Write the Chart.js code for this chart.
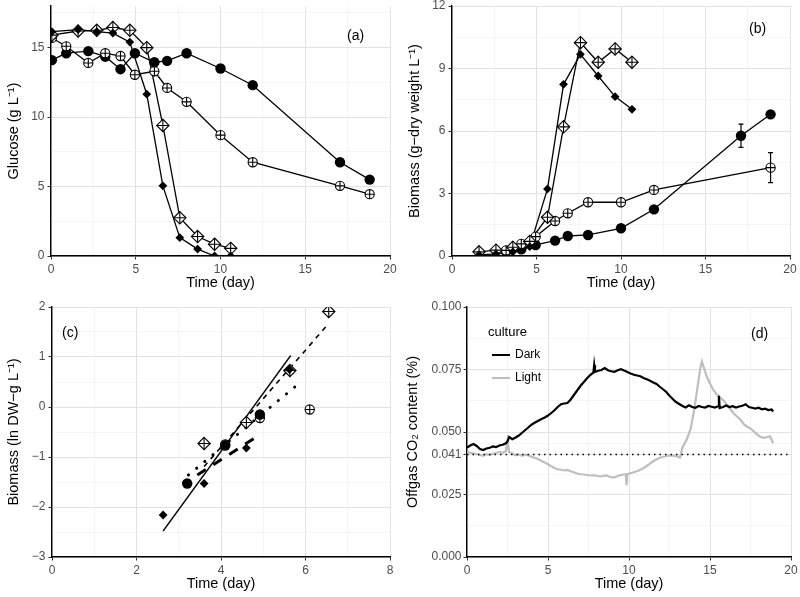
<!DOCTYPE html>
<html>
<head>
<meta charset="utf-8">
<script src="https://cdn.jsdelivr.net/npm/chart.js@4.4.1/dist/chart.umd.min.js"></script>
<style>
  html, body { margin: 0; padding: 0; background: #fff; }
  #wrap { position: relative; width: 800px; height: 597px; overflow: hidden; }
  #wrap canvas { position: absolute; }
</style>
</head>
<body>
<div id="wrap">
  <canvas id="panelA" width="400" height="298" style="left:0;top:0"></canvas>
  <canvas id="panelB" width="400" height="298" style="left:400px;top:0"></canvas>
  <canvas id="panelC" width="400" height="299" style="left:0;top:298px"></canvas>
  <canvas id="panelD" width="400" height="299" style="left:400px;top:298px"></canvas>
</div>
<script>
// (a) glucose
const circleTimesA = [0.05, 0.9, 2.2, 3.2, 4.1, 4.95, 6.1, 6.85, 8.0, 10.0, 11.9, 17.05, 18.8];
const glucoseDark = [14.1, 14.6, 14.75, 14.35, 13.45, 14.6, 13.95, 14.05, 14.6, 13.5, 12.3, 6.75, 5.5];
const glucoseDarkPlus = [15.7, 15.1, 13.9, 14.6, 14.4, 13.05, 13.3, 12.1, 11.1, 8.7, 6.75, 5.05, 4.45];
const diamondTimesA = [0.05, 1.6, 2.7, 3.65, 4.65, 5.65, 6.6, 7.6, 8.65, 9.65, 10.6];
const glucoseLight = [16.15, 16.3, 16.15, 16.05, 15.4, 11.65, 5.05, 1.32, 0.5, 0.0, 0.0];
const glucoseLightPlus = [15.9, 16.2, 16.25, 16.45, 16.25, 15.0, 9.4, 2.75, 1.4, 0.85, 0.55];

// (b) biomass
const circleTimesB = [3.2, 4.1, 4.95, 6.1, 6.85, 8.05, 10.0, 11.95, 17.1, 18.85];
const biomassDark = [0.2, 0.32, 0.53, 0.74, 0.96, 1.01, 1.33, 2.24, 5.77, 6.8];
const biomassDarkErr = [0, 0, 0, 0, 0, 0, 0, 0, 0.56, 0];
const plusTimesB = [3.2, 4.1, 4.95, 6.1, 6.85, 8.05, 10.0, 11.95, 18.85];
const biomassDarkPlus = [0.27, 0.58, 0.93, 1.68, 2.05, 2.58, 2.58, 3.17, 4.24];
const biomassDarkPlusErr = [0, 0, 0, 0, 0, 0, 0, 0, 0.72];
const diamondTimesB = [1.6, 2.6, 3.6, 4.6, 5.65, 6.6, 7.6, 8.65, 9.65, 10.65];
const biomassLight = [0.05, 0.1, 0.2, 0.45, 3.22, 8.24, 9.68, 8.64, 7.65, 7.04];
const biomassLightPlus = [0.2, 0.28, 0.42, 0.7, 1.86, 6.2, 10.24, 9.3, 9.94, 9.3];

// (c) ln biomass, points and fitted lines (end points)
const lnLightT = [2.63, 3.6, 4.6, 5.62];
const lnLight = [-2.16, -1.53, -0.82, 0.75];
const lnLightPlusT = [3.6, 4.6, 5.63, 6.55];
const lnLightPlus = [-0.73, -0.31, 0.73, 1.91];
const lnDarkT = [3.2, 4.1, 4.92];
const lnDark = [-1.53, -0.77, -0.15];
const lnDarkPlusT = [4.1, 4.92, 6.1];
const lnDarkPlus = [-0.75, -0.22, -0.05];
const fitLightT = [2.63, 5.65];
const fitLight = [-2.48, 1.03];
const fitLightPlusT = [3.6, 6.55];
const fitLightPlus = [-1.19, 1.67];
const fitDarkT = [3.23, 5.93];
const fitDark = [-1.36, 0.53];
const fitDarkPlusT = [3.44, 4.89];
const fitDarkPlus = [-1.36, -0.57];

// (d) offgas CO2
const co2DarkT = [0, 0.2, 0.4, 0.6, 0.8, 1.0, 1.2, 1.4, 1.6, 1.8, 2.0, 2.2, 2.4, 2.5, 2.6, 2.8, 3.0, 3.2, 3.4, 3.6, 3.8, 4.0, 4.2, 4.4, 4.6, 4.8, 5.0, 5.2, 5.4, 5.6, 5.8, 6.0, 6.2, 6.4, 6.6, 6.8, 7.0, 7.2, 7.4, 7.6, 7.8, 7.85, 7.9, 8.1, 8.3, 8.5, 8.7, 8.9, 9.1, 9.3, 9.5, 9.7, 9.9, 10.1, 10.3, 10.5, 10.7, 10.9, 11.1, 11.3, 11.5, 11.7, 11.9, 12.1, 12.3, 12.5, 12.7, 12.9, 13.1, 13.3, 13.5, 13.7, 13.9, 14.1, 14.3, 14.5, 14.7, 14.9, 15.1, 15.3, 15.5, 15.55, 15.6, 15.8, 16.0, 16.2, 16.4, 16.6, 16.8, 17.0, 17.2, 17.4, 17.6, 17.8, 18.0, 18.2, 18.4, 18.6, 18.8, 18.9];
const co2Dark = [0.0438, 0.0446, 0.0452, 0.0444, 0.0432, 0.0428, 0.0434, 0.0437, 0.0442, 0.0440, 0.0446, 0.0449, 0.0455, 0.0462, 0.0480, 0.0471, 0.0478, 0.0486, 0.0497, 0.0508, 0.0519, 0.0530, 0.0538, 0.0545, 0.0552, 0.0558, 0.0566, 0.0576, 0.0587, 0.0600, 0.0611, 0.0614, 0.0616, 0.0630, 0.0648, 0.0666, 0.0684, 0.0699, 0.0714, 0.0728, 0.0737, 0.0768, 0.0740, 0.0745, 0.0748, 0.0756, 0.0747, 0.0743, 0.0741, 0.0747, 0.0751, 0.0746, 0.0740, 0.0734, 0.0729, 0.0726, 0.0723, 0.0716, 0.0711, 0.0705, 0.0698, 0.0692, 0.0681, 0.0671, 0.0660, 0.0645, 0.0632, 0.0620, 0.0612, 0.0604, 0.0598, 0.0607, 0.0600, 0.0597, 0.0604, 0.0600, 0.0598, 0.0604, 0.0601, 0.0598, 0.0603, 0.0645, 0.0596, 0.0600, 0.0606, 0.0600, 0.0603, 0.0598, 0.0602, 0.0605, 0.0611, 0.0600, 0.0597, 0.0594, 0.0597, 0.0591, 0.0593, 0.0588, 0.0590, 0.0582];
const co2LightT = [0, 0.2, 0.4, 0.6, 0.8, 1.0, 1.2, 1.4, 1.6, 1.8, 2.0, 2.2, 2.4, 2.5, 2.6, 2.8, 3.0, 3.2, 3.4, 3.6, 3.8, 4.0, 4.2, 4.4, 4.6, 4.8, 5.0, 5.2, 5.4, 5.6, 5.8, 6.0, 6.2, 6.4, 6.6, 6.8, 7.0, 7.2, 7.4, 7.6, 7.8, 8.0, 8.2, 8.4, 8.6, 8.8, 9.0, 9.2, 9.4, 9.6, 9.8, 9.85, 9.9, 10.0, 10.2, 10.4, 10.6, 10.8, 11.0, 11.2, 11.4, 11.6, 11.8, 12.0, 12.2, 12.4, 12.6, 12.8, 13.0, 13.15, 13.3, 13.55, 13.8, 14.0, 14.2, 14.4, 14.5, 14.65, 14.8, 15.0, 15.2, 15.4, 15.6, 15.8, 16.0, 16.2, 16.45, 16.7, 16.9, 17.1, 17.3, 17.5, 17.7, 17.9, 18.1, 18.3, 18.5, 18.7, 18.8, 18.9];
const co2Light = [0.0421, 0.0417, 0.0414, 0.0411, 0.0408, 0.0405, 0.0411, 0.0408, 0.0413, 0.0416, 0.0420, 0.0417, 0.0424, 0.0466, 0.0420, 0.0414, 0.0407, 0.0410, 0.0405, 0.0409, 0.0406, 0.0400, 0.0397, 0.0391, 0.0384, 0.0378, 0.0371, 0.0363, 0.0356, 0.0351, 0.0349, 0.0346, 0.0348, 0.0343, 0.0339, 0.0334, 0.0331, 0.0330, 0.0328, 0.0326, 0.0327, 0.0325, 0.0322, 0.0324, 0.0326, 0.0321, 0.0318, 0.0321, 0.0326, 0.0329, 0.0331, 0.0287, 0.0331, 0.0334, 0.0337, 0.0341, 0.0346, 0.0352, 0.0360, 0.0369, 0.0379, 0.0387, 0.0394, 0.0399, 0.0402, 0.0405, 0.0406, 0.0404, 0.0402, 0.0398, 0.0438, 0.0468, 0.0510, 0.0580, 0.0665, 0.0755, 0.0782, 0.0752, 0.0722, 0.0694, 0.0668, 0.0652, 0.0640, 0.0628, 0.0612, 0.0596, 0.0575, 0.0560, 0.0548, 0.0530, 0.0521, 0.0514, 0.0503, 0.0490, 0.0481, 0.0477, 0.0479, 0.0483, 0.0470, 0.0455];
const ambientCO2 = 0.041;

// tick lists
const ticks20 = [0, 5, 10, 15, 20], minor20 = [2.5, 7.5, 12.5, 17.5];
const ticksGlucose = [0, 5, 10, 15], minorGlucose = [2.5, 7.5, 12.5, 17.5];
const ticksBiomass = [0, 3, 6, 9, 12], minorBiomass = [1.5, 4.5, 7.5, 10.5];
const ticksC_x = [0, 2, 4, 6, 8], minorC_x = [1, 3, 5, 7];
const ticksC_y = [-3, -2, -1, 0, 1, 2], minorC_y = [-2.5, -1.5, -0.5, 0.5, 1.5];
const ticksCO2 = [0, 0.025, 0.041, 0.05, 0.075, 0.1], minorCO2 = [0.0125, 0.033, 0.0455, 0.0625, 0.0875];

const FONT = "'Liberation Sans', Arial, Helvetica, sans-serif";

function pts(xs, ys) { return xs.map((x, i) => ({x: x, y: ys[i]})); }

// vector markers drawn on top of the datasets at the library's point positions
function drawMarker(g, kind, x, y) {
  g.strokeStyle = '#000'; g.fillStyle = '#000'; g.lineWidth = 1.1;
  if (kind === 'dot') {
    g.beginPath(); g.arc(x, y, 5.2, 0, 2 * Math.PI); g.fill();
  } else if (kind === 'oplus') {
    const r = 4.6;
    g.fillStyle = '#fff';
    g.beginPath(); g.arc(x, y, r, 0, 2 * Math.PI); g.fill(); g.stroke();
    g.beginPath(); g.moveTo(x - r, y); g.lineTo(x + r, y); g.moveTo(x, y - r); g.lineTo(x, y + r); g.stroke();
  } else if (kind === 'diamond') {
    const r = 4.4;
    g.beginPath(); g.moveTo(x, y - r); g.lineTo(x + r, y); g.lineTo(x, y + r); g.lineTo(x - r, y); g.closePath(); g.fill();
  } else if (kind === 'dplus') {
    const r = 6.2;
    g.fillStyle = '#fff';
    g.beginPath(); g.moveTo(x, y - r); g.lineTo(x + r, y); g.lineTo(x, y + r); g.lineTo(x - r, y); g.closePath(); g.fill(); g.stroke();
    g.beginPath(); g.moveTo(x - r, y); g.lineTo(x + r, y); g.moveTo(x, y - r); g.lineTo(x, y + r); g.stroke();
  }
}

const markers = {
  id: 'markers',
  afterDatasetsDraw(chart) {
    const g = chart.ctx, a = chart.chartArea;
    g.save();
    g.beginPath(); g.rect(a.left, a.top, a.right - a.left, a.bottom - a.top); g.clip();
    chart.data.datasets.forEach((ds, i) => {
      if (!ds.mk) return;
      chart.getDatasetMeta(i).data.forEach(el => drawMarker(g, ds.mk, el.x, el.y));
    });
    g.restore();
  }
};

function axis(o) {
  const all = o.major.concat(o.minor).sort((a, b) => a - b);
  const isMajor = v => o.major.some(m => Math.abs(m - v) < 1e-9);
  return {
    type: 'linear',
    min: o.min, max: o.max,
    afterBuildTicks: s => { s.ticks = all.map(v => ({value: v})); },
    afterFit: s => {
      if (o.width) { s.width = o.width; s.paddingTop = 0; s.paddingBottom = 0; }
      if (o.height) { s.height = o.height; s.paddingLeft = 0; s.paddingRight = 0; }
    },
    border: {display: true, color: '#000', width: 1.4},
    grid: {
      color: c => isMajor(c.tick.value) ? '#e2e2e2' : '#f0f0f0',
      lineWidth: c => isMajor(c.tick.value) ? 1 : 0.7,
      drawTicks: true,
      tickLength: 3.5,
      tickWidth: 1,
      tickColor: c => isMajor(c.tick.value) ? '#333' : 'rgba(0,0,0,0)'
    },
    ticks: {
      autoSkip: false, maxRotation: 0, padding: o.pad == null ? 3 : o.pad,
      color: '#4d4d4d', font: {family: FONT, size: 12},
      callback: v => isMajor(v) ? o.fmt(v) : ''
    },
    title: {display: true, text: o.title, color: '#000', font: {family: FONT, size: 14.5},
            padding: o.titlePad || {top: 0, bottom: 0}}
  };
}

const fmtInt = v => String(v).replace('-', '\u2212');
const fmt3 = v => v.toFixed(3);

const panelText = {
  id: 'panelText',
  afterDraw(chart, args, opts) {
    const ctx = chart.ctx;
    ctx.save();
    ctx.textBaseline = 'middle';
    (opts.items || []).forEach(it => {
      ctx.font = (it.size || 14) + 'px ' + FONT;
      ctx.fillStyle = it.color || '#000';
      ctx.textAlign = it.align || 'left';
      ctx.fillText(it.text, it.x, it.y);
    });
    (opts.keys || []).forEach(k => {
      ctx.strokeStyle = k.color; ctx.lineWidth = 2;
      ctx.beginPath(); ctx.moveTo(k.x1, k.y); ctx.lineTo(k.x2, k.y); ctx.stroke();
    });
    ctx.restore();
  }
};

const errorBars = {
  id: 'errorBars',
  afterDatasetsDraw(chart, args, opts) {
    const ctx = chart.ctx, xs = chart.scales.x, ys = chart.scales.y;
    ctx.save();
    ctx.strokeStyle = '#000'; ctx.lineWidth = 1.2;
    (opts.sets || []).forEach(s => {
      s.t.forEach((t, i) => {
        const e = s.err[i];
        if (!e) return;
        const x = xs.getPixelForValue(t);
        const y1 = ys.getPixelForValue(s.v[i] - e), y2 = ys.getPixelForValue(s.v[i] + e);
        ctx.beginPath();
        ctx.moveTo(x, y1); ctx.lineTo(x, y2);
        ctx.moveTo(x - 2.5, y1); ctx.lineTo(x + 2.5, y1);
        ctx.moveTo(x - 2.5, y2); ctx.lineTo(x + 2.5, y2);
        ctx.stroke();
      });
    });
    ctx.restore();
  }
};

function series(data, mk, extra) {
  return Object.assign({
    data: data, showLine: true, borderColor: '#000', borderWidth: 1.3,
    pointRadius: 0, mk: mk
  }, extra || {});
}

function baseOptions(pad, xAxis, yAxis, plugins) {
  return {
    responsive: false, animation: false, events: [],
    layout: {padding: pad},
    scales: {x: xAxis, y: yAxis},
    plugins: Object.assign({legend: {display: false}, tooltip: {enabled: false}}, plugins)
  };
}

// panel (a)
new Chart(document.getElementById('panelA'), {
  type: 'scatter',
  data: {datasets: [
    series(pts(circleTimesA, glucoseDark), 'dot'),
    series(pts(circleTimesA, glucoseDarkPlus), 'oplus'),
    series(pts(diamondTimesA, glucoseLightPlus), 'dplus'),
    series(pts(diamondTimesA, glucoseLight), 'diamond')
  ]},
  options: baseOptions({left: 0, top: 6, right: 10, bottom: 6},
    axis({min: 0, max: 20, major: ticks20, minor: minor20, fmt: fmtInt, title: 'Time (day)', height: 36}),
    axis({min: 0, max: 18, major: ticksGlucose, minor: minorGlucose, fmt: fmtInt, title: 'Glucose (g L\u207B\u00B9)', width: 51, titlePad: {top: 5}}),
    {panelText: {items: [{text: '(a)', x: 347, y: 36}]}}),
  plugins: [markers, panelText]
});

// panel (b)
new Chart(document.getElementById('panelB'), {
  type: 'scatter',
  data: {datasets: [
    series(pts(circleTimesB, biomassDark), 'dot'),
    series(pts(plusTimesB, biomassDarkPlus), 'oplus'),
    series(pts(diamondTimesB, biomassLightPlus), 'dplus'),
    series(pts(diamondTimesB, biomassLight), 'diamond')
  ]},
  options: baseOptions({left: 0, top: 6, right: 10, bottom: 6},
    axis({min: 0, max: 20, major: ticks20, minor: minor20, fmt: fmtInt, title: 'Time (day)', height: 36}),
    axis({min: 0, max: 12, major: ticksBiomass, minor: minorBiomass, fmt: fmtInt, title: 'Biomass (g\u2212dry weight L\u207B\u00B9)', width: 52, titlePad: {top: 6}}),
    {panelText: {items: [{text: '(b)', x: 349, y: 29}]},
     errorBars: {sets: [
       {t: circleTimesB, v: biomassDark, err: biomassDarkErr},
       {t: plusTimesB, v: biomassDarkPlus, err: biomassDarkPlusErr}
     ]}}),
  plugins: [errorBars, markers, panelText]
});

// panel (c)
new Chart(document.getElementById('panelC'), {
  type: 'scatter',
  data: {datasets: [
    {data: pts(fitLightT, fitLight), showLine: true, borderColor: '#000', borderWidth: 1.3, pointRadius: 0},
    {data: pts(fitLightPlusT, fitLightPlus), showLine: true, borderColor: '#000', borderWidth: 1.6, borderDash: [5, 5], pointRadius: 0},
    {data: pts(fitDarkT, fitDark), showLine: true, borderColor: '#000', borderWidth: 3, borderDash: [0.1, 10.5], borderCapStyle: 'round', pointRadius: 0},
    {data: pts(fitDarkPlusT, fitDarkPlus), showLine: true, borderColor: '#000', borderWidth: 3, borderDash: [10, 9], pointRadius: 0},
    series(pts(lnDarkPlusT, lnDarkPlus), 'oplus', {showLine: false}),
    series(pts(lnDarkT, lnDark), 'dot', {showLine: false}),
    series(pts(lnLightPlusT, lnLightPlus), 'dplus', {showLine: false}),
    series(pts(lnLightT, lnLight), 'diamond', {showLine: false})
  ]},
  options: baseOptions({left: 0, top: 9, right: 10, bottom: 4},
    axis({min: 0, max: 8, major: ticksC_x, minor: minorC_x, fmt: fmtInt, title: 'Time (day)', height: 36}),
    axis({min: -3, max: 2, major: ticksC_y, minor: minorC_y, fmt: fmtInt, title: 'Biomass (ln DW\u2212g L\u207B\u00B9)', width: 52, titlePad: {top: 5}}),
    {panelText: {items: [{text: '(c)', x: 62, y: 35}]}}),
  plugins: [markers, panelText]
});

// panel (d)
new Chart(document.getElementById('panelD'), {
  type: 'scatter',
  data: {datasets: [
    {data: pts([0, 20], [ambientCO2, ambientCO2]), showLine: true, borderColor: '#000', borderWidth: 1.5, borderDash: [1.5, 4], pointRadius: 0},
    {data: pts(co2DarkT, co2Dark), showLine: true, borderColor: '#000', borderWidth: 2.2, pointRadius: 0},
    {data: pts(co2LightT, co2Light), showLine: true, borderColor: '#bebebe', borderWidth: 2.2, pointRadius: 0}
  ]},
  options: baseOptions({left: 0, top: 9, right: 9, bottom: 4},
    axis({min: 0, max: 20, major: ticks20, minor: minor20, fmt: fmtInt, title: 'Time (day)', height: 36}),
    axis({min: 0, max: 0.1, major: ticksCO2, minor: minorCO2, fmt: fmt3, title: 'Offgas CO\u2082 content (%)', width: 67, pad: 2, titlePad: {top: 4}}),
    {panelText: {
      items: [
        {text: '(d)', x: 351, y: 36},
        {text: 'culture', x: 88, y: 34, size: 13},
        {text: 'Dark', x: 115, y: 57, size: 12},
        {text: 'Light', x: 115, y: 80, size: 12}
      ],
      keys: [
        {x1: 92, x2: 110, y: 57, color: '#000'},
        {x1: 92, x2: 110, y: 80, color: '#bebebe'}
      ]
    }}),
  plugins: [panelText]
});
</script>
</body>
</html>
